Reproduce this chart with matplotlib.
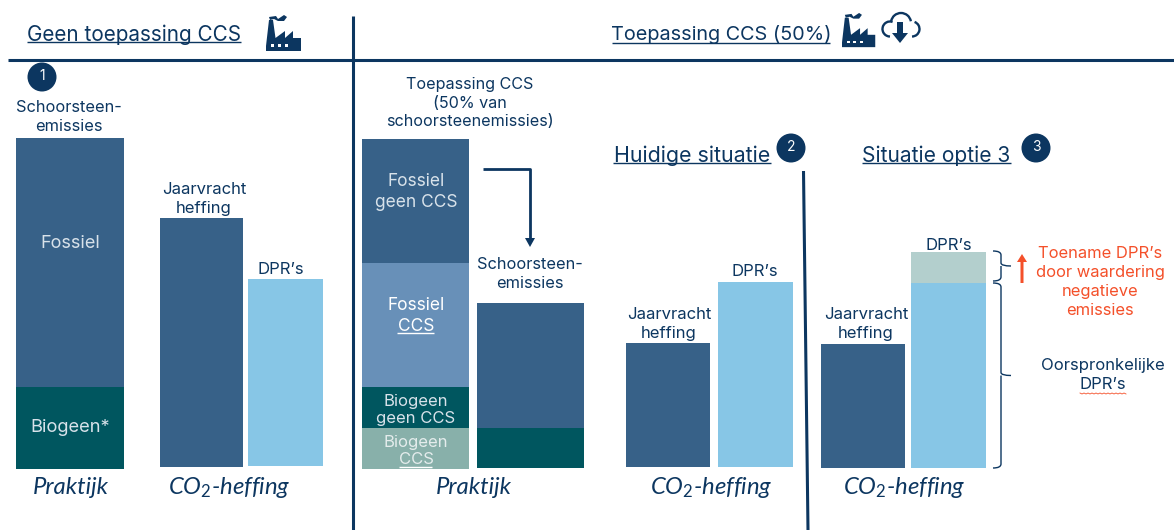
import matplotlib
matplotlib.use("Agg")
import matplotlib.pyplot as plt
from matplotlib.patches import Circle, Polygon, PathPatch, Arc
from matplotlib.path import Path

plt.rcParams['font.family'] = ['Inter', 'DejaVu Sans']
plt.rcParams['mathtext.fontset'] = 'custom'
plt.rcParams['mathtext.it'] = 'Lato:italic'
plt.rcParams['mathtext.rm'] = 'Lato'

NAVY = '#0c3660'
BLUE = '#376188'
MIDBLUE = '#6890b8'
SKY = '#87c6e6'
TEAL = '#00565f'
LTEAL = '#88b0aa'
PALE = '#b3cfcd'
RED = '#f4502a'

# ---- values (relative units) ----
praktijk1_fossiel = 249
praktijk1_biogeen = 82
heffing1 = 249
dpr1 = 187
praktijk2_biogeen_ccs = 41
praktijk2_biogeen_geen = 41
praktijk2_fossiel_ccs = 124
praktijk2_fossiel_geen = 124
schoorsteen_biogeen = 40
schoorsteen_fossiel = 125
heffing2 = 124
dpr2 = 185
heffing3 = 124
dpr3_orig = 185
dpr3_toename = 31

fig = plt.figure(figsize=(11.74, 5.30), dpi=100)
ax = fig.add_axes([0, 0, 1, 1])
ax.set_xlim(0, 1174)
ax.set_ylim(0, 530)
ax.axis('off')


def Y(py):
    return 530 - py


def bar(x0, x1, base_px, h, color, offset=0):
    ax.bar((x0 + x1) / 2, h, width=x1 - x0, bottom=Y(base_px) + offset,
           color=color, linewidth=0)


# bars
bar(16, 124, 469, praktijk1_biogeen, TEAL)
bar(16, 124, 469, praktijk1_fossiel, BLUE, praktijk1_biogeen)
bar(160, 243, 467, heffing1, BLUE)
bar(248, 323, 466, dpr1, SKY)

o = 0
for h, c in [(praktijk2_biogeen_ccs, LTEAL), (praktijk2_biogeen_geen, TEAL),
             (praktijk2_fossiel_ccs, MIDBLUE), (praktijk2_fossiel_geen, BLUE)]:
    bar(362, 469, 469, h, c, o)
    o += h
bar(477, 584, 468, schoorsteen_biogeen, TEAL)
bar(477, 584, 468, schoorsteen_fossiel, BLUE, schoorsteen_biogeen)
bar(626, 710, 467, heffing2, BLUE)
bar(718, 793, 467, dpr2, SKY)
bar(821, 905, 468, heffing3, BLUE)
bar(911, 986, 468, dpr3_orig, SKY)
bar(911, 986, 468, dpr3_toename, PALE, dpr3_orig)

# rules
ax.plot([8, 1174], [Y(60), Y(60)], color=NAVY, lw=2.2, solid_capstyle='butt')
ax.plot([353, 353], [Y(16), Y(530)], color=NAVY, lw=2.2, solid_capstyle='butt')
ax.plot([803.5, 808], [Y(171), Y(530)], color=NAVY, lw=2.2, solid_capstyle='butt')


def T(x, y, s, size=12, color=NAVY, **kw):
    kw.setdefault('ha', 'center')
    kw.setdefault('va', 'center')
    kw.setdefault('linespacing', 1.36)
    return ax.text(x, Y(y), s, fontsize=size, color=color, **kw)


def U(x0, x1, y, color=NAVY, lw=1.0):
    ax.plot([x0, x1], [Y(y), Y(y)], color=color, lw=lw, solid_capstyle='butt')


# headings
T(134, 35, 'Geen toepassing CCS', 14.9)
U(27, 241, 42)
T(721, 35, 'Toepassing CCS (50%)', 14.3)
U(612, 830, 43)
T(692, 156, 'Huidige situatie', 15.4)
U(613, 771, 163)
T(936, 156, 'Situatie optie 3', 15.1)
U(862, 1011, 163)


# numbered circles
def badge(x, y, s):
    ax.add_patch(Circle((x, Y(y)), 14.5, color=NAVY, lw=0, zorder=3))
    T(x, y - 1, s, 10, 'white', zorder=4)


badge(42, 77, '1')
badge(791, 148, '2')
badge(1036, 148, '3')

# labels
T(69, 117, 'Schoorsteen-\nemissies', 11.8)
T(204, 199, 'Jaarvracht\nheffing')
T(281, 270, "DPR’s")
T(470, 103, 'Toepassing CCS\n(50% van\nschoorsteenemissies)', 11.6, linespacing=1.32)
T(530, 274, 'Schoorsteen-\nemissies', 11.8)
T(669, 324, 'Jaarvracht\nheffing')
T(755, 271, "DPR’s")
T(866, 324, 'Jaarvracht\nheffing')
T(949, 245, "DPR’s")
T(1100, 282, "Toename DPR’s\ndoor waardering\nnegatieve\nemissies", 11.9, RED, linespacing=1.34)
T(1103, 375, "Oorspronkelijke\nDPR’s", 12)
T(70, 243, 'Fossiel', 13, '#d8e2ea')
T(70, 428, 'Biogeen*', 13.2, '#d8e2ea')
T(416, 192, 'Fossiel\ngeen CCS', 12.5, '#d8e2ea', linespacing=1.25)
T(416, 316, 'Fossiel\nCCS', 12.5, 'white', linespacing=1.25)
U(397, 434, 333, 'white')
T(416, 410, 'Biogeen\ngeen CCS', 12, '#d8e2ea', linespacing=1.2)
T(416, 451, 'Biogeen\nCCS', 12, '#e4ecec', linespacing=1.2)
U(399, 432, 467, 'white')

# axis captions
ITAL = dict(fontsize=17.2, color=NAVY, ha='center', va='center', family='Lato', style='italic')
ax.text(71, Y(488), 'Praktijk', **ITAL)
ax.text(474, Y(488), 'Praktijk', **ITAL)
for x in (229, 711, 904):
    ax.text(x, Y(488), r'$\mathit{CO_2}$-heffing', **ITAL)

# elbow arrow
ax.plot([483, 530, 530], [Y(169), Y(169), Y(240)], color=NAVY, lw=2, solid_capstyle='butt')
ax.add_patch(Polygon([(525, Y(238)), (535, Y(238)), (530, Y(247))], color=NAVY, lw=0))

# red arrow
ax.add_patch(Polygon([(1020.5, Y(283)), (1023.5, Y(283)), (1023.5, Y(262)), (1027, Y(262)),
                      (1022, Y(254)), (1017, Y(262)), (1020.5, Y(262))], color=RED, lw=0))


# curly braces
def brace(x, top, bot, depth=10):
    m = (top + bot) / 2
    v = [(x - depth + 2, Y(top)), (x, Y(top)), (x, Y(top + 4)), (x, Y(m - 3)), (x, Y(m)), (x + depth, Y(m)),
         (x, Y(m)), (x, Y(m + 3)), (x, Y(bot - 4)), (x, Y(bot)), (x - depth + 2, Y(bot))]
    c = [Path.MOVETO, Path.CURVE3, Path.CURVE3, Path.LINETO, Path.CURVE3, Path.LINETO,
         Path.MOVETO, Path.CURVE3, Path.LINETO, Path.CURVE3, Path.CURVE3]
    ax.add_patch(PathPatch(Path(v, c), fc='none', ec=NAVY, lw=1.0))


brace(1001, 251, 281)
brace(1001, 283, 468)

# wavy underline
wx = list(range(1080, 1128, 2))
ax.plot(wx, [Y(393 + (i % 2)) for i in range(len(wx))], color=RED, lw=0.6)


# icons
def factory(x, y, s=1.0):
    pts = [(0, 37), (0, 32), (3, 6), (7, 6), (9.5, 24), (19, 17), (19, 24), (27, 17), (27, 24), (35, 24), (35, 37)]
    ax.add_patch(Polygon([(x + a * s, Y(y + b * s)) for a, b in pts], color=NAVY, lw=0))
    for dx in (5, 12, 19):
        ax.add_patch(Polygon([(x + (dx + a) * s, Y(y + (30 + b) * s)) for a, b in [(0, 0), (3, 0), (3, 3), (0, 3)]],
                             color='white', lw=0))
    sm = [(3, 3), (10, 2), (12, 5), (18, 1), (21, 3), (18, 7), (12, 7), (8, 5), (4, 6)]
    ax.add_patch(Polygon([(x + a * s, Y(y + b * s)) for a, b in sm], color=NAVY, lw=0))


factory(266, 14, 1.0)
factory(842, 12, 0.95)

# cloud with download arrow
for cx, cy, r, t1, t2 in [(890, 29, 7.5, 70, 270), (901, 23, 10, 10, 170), (912, 29, 7.5, -90, 70)]:
    ax.add_patch(Arc((cx, Y(cy)), 2 * r, 2 * r, theta1=t1, theta2=t2, ec=NAVY, lw=1.7))
ax.add_patch(Polygon([(a, Y(b)) for a, b in [(897, 22), (903, 22), (903, 33), (908, 33), (900, 43), (892, 33), (897, 33)]],
                     color=NAVY, lw=0))

fig.savefig('out.png', dpi=100)
